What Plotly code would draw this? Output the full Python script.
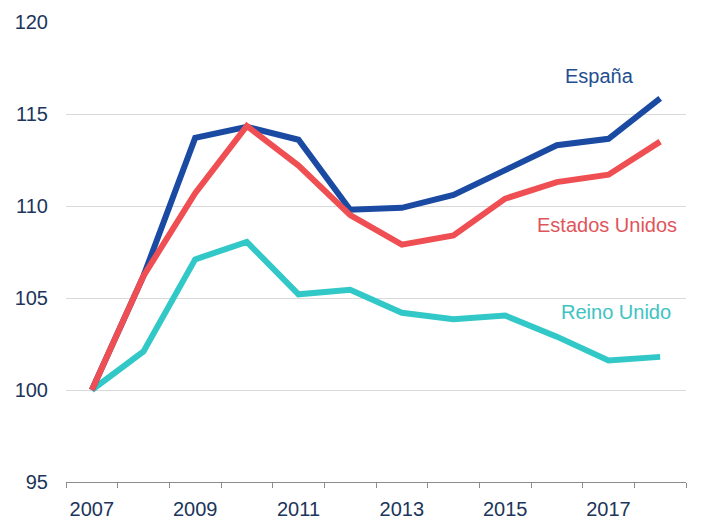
import plotly.graph_objects as go

years = [2007, 2008, 2009, 2010, 2011, 2012, 2013, 2014, 2015, 2016, 2017, 2018]
espana = [100.0, 106.2, 113.7, 114.3, 113.6, 109.8, 109.9, 110.6, 111.95, 113.3, 113.65, 115.85]
eeuu = [100.0, 106.2, 110.7, 114.35, 112.2, 109.5, 107.9, 108.4, 110.4, 111.3, 111.7, 113.5]
reino = [100.0, 102.1, 107.1, 108.05, 105.2, 105.45, 104.2, 103.85, 104.05, 102.9, 101.6, 101.8]
tick_years = [2007, 2009, 2011, 2013, 2015, 2017]
y_ticks = [95, 100, 105, 110, 115, 120]

c_es = "#1B4AA3"
c_us = "#EF4F52"
c_uk = "#33C8C8"
font_fam = "Liberation Sans, Arial, sans-serif"
tick_color = "#1C355A"

fig = go.Figure()
for name, vals, col in [("Reino Unido", reino, c_uk), ("España", espana, c_es), ("Estados Unidos", eeuu, c_us)]:
    fig.add_trace(go.Scatter(x=years, y=vals, mode="lines", name=name,
                             line=dict(color=col, width=6, shape="linear"),
                             showlegend=False))

bounds = [y - 0.5 for y in years] + [years[-1] + 0.5]

# page body has an 8px default margin, so the figure is shrunk to compensate
fig.update_layout(
    width=701, height=523,
    margin=dict(l=58, r=23, t=14, b=49),
    plot_bgcolor="white", paper_bgcolor="white",
    font=dict(family=font_fam, color=tick_color),
    xaxis=dict(range=[bounds[0], bounds[-1]], tickvals=tick_years,
               ticktext=[str(y) for y in tick_years],
               automargin=False,
               showgrid=False, zeroline=False,
               showline=True, linecolor="#8C8C8C", linewidth=1,
               ticks="outside", ticklen=0, tickcolor="rgba(0,0,0,0)",
               ticklabelstandoff=9,
               tickfont=dict(size=20, color=tick_color),
               minor=dict(tickvals=bounds, ticks="outside", ticklen=5,
                          tickcolor="#8C8C8C", tickwidth=1, showgrid=False)),
    yaxis=dict(range=[95, 120], tickvals=y_ticks,
               automargin=False,
               showgrid=True, gridcolor="#D9D9D9", gridwidth=1,
               zeroline=False, showline=False,
               ticks="", ticklabelstandoff=17,
               tickfont=dict(size=20, color=tick_color)),
)

labels = [("España", 2016.83, 117.07, "#1F4E8F"),
          ("Estados Unidos", 2016.97, 108.97, "#E0555B"),
          ("Reino Unido", 2017.14, 104.24, "#3CC3C3")]
for txt, x, y, col in labels:
    fig.add_annotation(x=x, y=y, text=txt, showarrow=False,
                       xanchor="center", yanchor="middle",
                       font=dict(size=20, color=col, family=font_fam))

fig.write_html("out.html")
